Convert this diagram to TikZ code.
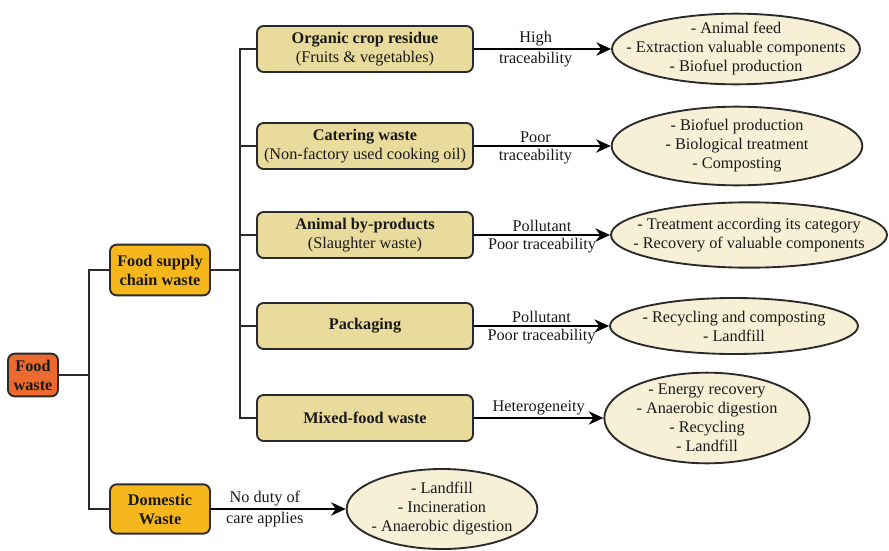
\documentclass[tikz,border=0pt]{standalone}
\usepackage{fontspec}
\setmainfont{Liberation Serif}
\usetikzlibrary{arrows.meta,shapes.geometric}

\definecolor{fwred}{HTML}{EC6A2E}
\definecolor{fscgold}{HTML}{F6B71C}
\definecolor{catkhaki}{HTML}{E8DB9B}
\definecolor{usecream}{HTML}{F7F0D7}
\definecolor{edgegray}{HTML}{2A2A2A}

\begin{document}
\begin{tikzpicture}[x=0.75pt, y=-0.75pt, line width=1.4pt,
    >={Stealth[length=11pt,width=10pt]},
    every node/.style={font=\fontsize{12.2}{14.25}\selectfont, text=black!90},
    mainbox/.style={draw=edgegray, rounded corners=5pt, align=center, inner sep=1pt},
    catbox/.style={draw=edgegray, fill=catkhaki, rounded corners=5pt, align=center,
        minimum width=162pt, minimum height=34.5pt, inner sep=1pt},
    usebox/.style={draw=edgegray, fill=usecream, ellipse, inner sep=0pt},
    usetext/.style={align=center, inner sep=0pt},
    lbl/.style={inner sep=1.5pt}]

    \useasboundingbox (0,0) rectangle (889,550);

    % waste streams
    \node[mainbox, fill=fwred, minimum width=37.5pt, minimum height=32pt] (fw) at (33,375)
        {\textbf{Food}\\\textbf{waste}};
    \node[mainbox, fill=fscgold, minimum width=75pt, minimum height=38pt] (fsc) at (160,270)
        {\textbf{Food supply}\\\textbf{chain waste}};
    \node[mainbox, fill=fscgold, minimum width=75pt, minimum height=37pt] (dw) at (160,509)
        {\textbf{Domestic}\\\textbf{Waste}};

    \node[catbox] (c1) at (365,49) {\textbf{Organic crop residue}\\(Fruits \& vegetables)};
    \node[catbox] (c2) at (365,146) {\textbf{Catering waste}\\(Non-factory used cooking oil)};
    \node[catbox] (c3) at (365,235) {\textbf{Animal by-products}\\(Slaughter waste)};
    \node[catbox] (c4) at (365,326) {\textbf{Packaging}};
    \node[catbox] (c5) at (365,418) {\textbf{Mixed-food waste}};

    % end uses: outline first, text on top
    \node[usebox, minimum width=186pt, minimum height=53pt] (e1) at (736,49) {};
    \node[usebox, minimum width=188pt, minimum height=59pt] (e2) at (737,146) {};
    \node[usebox, minimum width=207pt, minimum height=49pt] (e3) at (749,235) {};
    \node[usebox, minimum width=186pt, minimum height=42pt] (e4) at (734,326) {};
    \node[usebox, minimum width=154pt, minimum height=68pt] (e5) at (707,418) {};
    \node[usebox, minimum width=143pt, minimum height=60pt] (e6) at (442,509) {};

    \node[usetext] (e1t) at (e1) {- Animal feed\\- Extraction valuable components\\- Biofuel production};
    \node[usetext] (e2t) at (e2) {- Biofuel production\\- Biological treatment\\- Composting};
    \node[usetext] (e3t) at (e3) {- Treatment according its category\\- Recovery of valuable components};
    \node[usetext] (e4t) at (e4) {- Recycling and composting\\- Landfill};
    \node[usetext] (e5t) at (e5) {- Energy recovery\\- Anaerobic digestion\\- Recycling\\- Landfill};
    \node[usetext] (e6t) at (e6) {- Landfill\\- Incineration\\- Anaerobic digestion};

    % tree
    \coordinate (t1) at (89,375);
    \coordinate (t2) at (240,270);
    \draw[edgegray] (fw) -- (t1);
    \draw[edgegray] (t1) |- (fsc);
    \draw[edgegray] (t1) |- (dw);
    \draw[edgegray] (fsc) -- (t2);
    \foreach \n in {c1,c2,c3,c4,c5}
        \draw[edgegray] (t2) |- (\n);

    % routes
    \draw[->] (c1) -- node[lbl, above, pos=0.45] {High} node[lbl, below, pos=0.45] {traceability} (e1);
    \draw[->] (c2) -- node[lbl, above, pos=0.45] {Poor} node[lbl, below, pos=0.45] {traceability} (e2);
    \draw[->] (c3) -- node[lbl, above] {Pollutant} node[lbl, below] {Poor traceability} (e3);
    \draw[->] (c4) -- node[lbl, above] {Pollutant} node[lbl, below] {Poor traceability} (e4);
    \draw[->] (c5) -- node[lbl, above] {Heterogeneity} (e5);
    \draw[->] (dw) -- node[lbl, above, pos=0.4] {No duty of} node[lbl, below, pos=0.4] {care applies} (e6);
\end{tikzpicture}
\end{document}
